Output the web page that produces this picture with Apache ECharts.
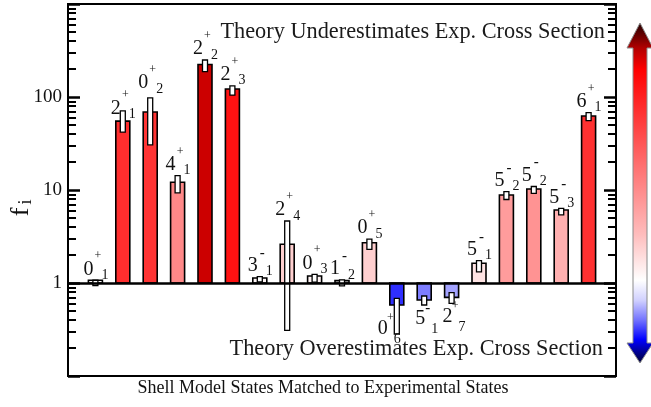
<!DOCTYPE html>
<html>
<head>
<meta charset="utf-8">
<script src="https://cdn.jsdelivr.net/npm/echarts@6/dist/echarts.min.js"></script>
<style>
  html, body { margin: 0; padding: 0; background: #fff; }
  #chart { width: 651px; height: 407px; }
</style>
</head>
<body>
<div id="chart"></div>
<script>
// Shell-model states: spin J, parity and state index n (J^pi_n)
const spins    = ['0','2','0','4','2','2','3','2','0','1','0','0','5','2','5','5','5','5','6'];
const parities = ['+','+','+','+','+','+','-','+','+','-','+','+','-','+','-','-','-','-','+'];
const indices  = ['1','1','2','1','2','3','1','4','3','2','5','6','1','7','1','2','2','3','1'];

// Scaling factor f_i for each matched state, with its uncertainty range
const fValues = [1.07, 55, 69, 12.1, 224, 122, 1.13, 2.61, 1.19, 1.06, 2.71, 0.58, 0.656, 0.70, 1.63, 8.84, 10.25, 6.1, 62.5];
const fLow    = [0.94, 42, 30.5, 9.3, 187, 105, 1.03, 0.31, 1.02, 0.93, 2.30, 0.283, 0.58, 0.605, 1.32, 7.9, 9.2, 5.4, 55.6];
const fHigh   = [1.07, 71, 98, 14.3, 250, 132, 1.17, 4.64, 1.24, 1.08, 2.97, 0.684, 0.725, 0.787, 1.74, 9.6, 10.9, 6.35, 67.8];

// Labels shown on the log axis
const yTickLabels = [1, 10, 100];

const SERIF = '"Liberation Serif", "DejaVu Serif", serif';

// Minor tick positions (2..9 in each decade), in log10 units
const minorTickLogs = [];
[0.1, 1, 10, 100].forEach(d => {
  for (let k = 2; k <= 9; k++) minorTickLogs.push(Math.log10(d * k));
});

// Diverging colour ramp over log10(f): blue below 1, white at 1, red above
const rampStops = [
  [-0.6, '#0000c0'], [-0.24, '#2a2aff'], [-0.18, '#8282ff'], [-0.15, '#aaaaff'],
  [0, '#ffffff'], [0.05, '#fff6f6'], [0.21, '#ffe4e4'], [0.42, '#ffd0d0'],
  [0.79, '#ffb0b0'], [0.95, '#ff9c9c'], [1.08, '#ff8888'], [1.74, '#ff2e2e'],
  [1.84, '#ff3434'], [2.09, '#ff1212'], [2.35, '#cc0000'], [3, '#400000']
];
function hexToRgb(h) {
  return [parseInt(h.slice(1, 3), 16), parseInt(h.slice(3, 5), 16), parseInt(h.slice(5, 7), 16)];
}
function rampColor(v) {
  const t = Math.log10(v);
  if (t <= rampStops[0][0]) return rampStops[0][1];
  for (let i = 1; i < rampStops.length; i++) {
    if (t <= rampStops[i][0]) {
      const [t0, c0] = rampStops[i - 1], [t1, c1] = rampStops[i];
      const a = (t - t0) / (t1 - t0);
      const p = hexToRgb(c0), q = hexToRgb(c1);
      const m = p.map((x, j) => Math.round(x + (q[j] - x) * a));
      return 'rgb(' + m.join(',') + ')';
    }
  }
  return rampStops[rampStops.length - 1][1];
}

// Hand adjustments for a few state labels that sit beside long error boxes
const labelNudge = { 1: [0, 8.5], 2: [0, -3.7], 11: [-10, -19] };

function renderState(params, api) {
  const i = params.dataIndex;
  const xv = api.value(0), v = api.value(1), lo = api.value(2), hi = api.value(3);
  const base = api.coord([xv, 1]);
  const top = api.coord([xv, v]);
  const eHi = api.coord([xv, hi]);
  const eLo = api.coord([xv, lo]);
  const cx = base[0];
  const y0 = Math.min(base[1], top[1]);
  const y1 = Math.max(base[1], top[1]);
  const children = [
    {
      type: 'rect',
      shape: { x: cx - 7, y: y0, width: 14, height: Math.max(y1 - y0, 0.5) },
      style: { fill: rampColor(v), stroke: '#000', lineWidth: 1.6 }
    },
    {
      type: 'rect',
      shape: { x: cx - 2.5, y: eHi[1], width: 5, height: eLo[1] - eHi[1] },
      style: { fill: '#fff', stroke: '#000', lineWidth: 1.3 }
    }
  ];
  const nd = labelNudge[i] || [0, 0];
  const up = v >= 1;
  let dcy, dx, sx, sy, bx, by;
  if (up) {
    const yTop = Math.min(top[1], eHi[1]);
    dcy = yTop - 11 + nd[1];
    dx = cx - 2 + nd[0];
    sx = cx + 2.5 + nd[0]; sy = dcy - 13;
    bx = cx + 6 + nd[0];  by = dcy + 6;
  } else {
    const yBot = Math.max(top[1], eLo[1]);
    dcy = yBot + 13.5 + nd[1];
    dx = cx + 1 + nd[0];
    sx = cx + 3.5 + nd[0]; sy = dcy - 10.5;
    bx = cx + 7 + nd[0];  by = dcy + 10.5;
  }
  const sign = parities[i];
  children.push(
    { type: 'text', style: { text: spins[i], x: dx, y: dcy, align: 'right', verticalAlign: 'middle',
        font: '20px ' + SERIF, fill: '#111' } },
    { type: 'text', style: { text: sign, x: sx, y: sy, align: 'center', verticalAlign: 'middle',
        font: (sign === '-' ? 'bold 15px ' : '12px ') + SERIF, fill: '#111' } },
    { type: 'text', style: { text: indices[i], x: bx, y: by, align: 'left', verticalAlign: 'middle',
        font: '14px ' + SERIF, fill: '#111' } }
  );
  return { type: 'group', children };
}

const chart = echarts.init(document.getElementById('chart'), null, { renderer: 'canvas' });

const tickAxisBase = {
  type: 'value', min: -1, max: 3,
  axisLine: { show: false }, axisLabel: { show: false }, splitLine: { show: false }
};

chart.setOption({
  animation: false,
  backgroundColor: '#fff',
  grid: { left: 68, right: 35, top: 4, bottom: 31, show: true, borderColor: '#000', borderWidth: 2, backgroundColor: 'transparent' },
  xAxis: { type: 'value', min: 0, max: 20, show: false },
  yAxis: [
    {
      type: 'log', logBase: 10, min: 0.1, max: 1000, position: 'left',
      axisLine: { show: false }, splitLine: { show: false },
      axisTick: { inside: true, length: 12, lineStyle: { color: '#000', width: 2.5 } },
      axisLabel: {
        margin: 6, fontFamily: SERIF, fontSize: 19, color: '#111',
        formatter: v => {
          const m = yTickLabels.find(t => Math.abs(Math.log10(v) - Math.log10(t)) < 1e-6);
          return m === undefined ? '' : String(m);
        }
      }
    },
    Object.assign({}, tickAxisBase, { position: 'left',
      axisTick: { inside: true, length: 8, customValues: minorTickLogs, lineStyle: { color: '#000', width: 2 } } }),
    Object.assign({}, tickAxisBase, { position: 'right', interval: 1,
      axisTick: { inside: true, length: 12, lineStyle: { color: '#000', width: 2.5 } } }),
    Object.assign({}, tickAxisBase, { position: 'right',
      axisTick: { inside: true, length: 8, customValues: minorTickLogs, lineStyle: { color: '#000', width: 2 } } })
  ],
  series: [{
    type: 'custom',
    xAxisIndex: 0, yAxisIndex: 0,
    renderItem: renderState,
    encode: { x: 0, y: [1, 2, 3] },
    data: fValues.map((v, i) => [i + 1, v, fLow[i], fHigh[i]]),
    z: 2,
    markLine: {
      silent: true, symbol: 'none', label: { show: false },
      lineStyle: { color: '#000', width: 2.5, type: 'solid' },
      data: [{ yAxis: 1 }]
    }
  }],
  graphic: [
    { type: 'text', x: 605, y: 32, style: { text: 'Theory Underestimates Exp. Cross Section',
        font: '22.3px ' + SERIF, fill: '#1a1a1a', align: 'right', verticalAlign: 'middle',
        textAlign: 'right', textVerticalAlign: 'middle' } },
    { type: 'text', x: 603, y: 349, style: { text: 'Theory Overestimates Exp. Cross Section',
        font: '22.3px ' + SERIF, fill: '#1a1a1a', align: 'right', verticalAlign: 'middle',
        textAlign: 'right', textVerticalAlign: 'middle' } },
    { type: 'text', x: 323, y: 388, style: { text: 'Shell Model States Matched to Experimental States',
        font: '18px ' + SERIF, fill: '#111', align: 'center', verticalAlign: 'middle',
        textAlign: 'center', textVerticalAlign: 'middle' } },
    { type: 'text', x: 21, y: 212, rotation: Math.PI / 2, style: { text: 'f',
        font: '26px ' + SERIF, fill: '#111', align: 'center', verticalAlign: 'middle',
        textAlign: 'center', textVerticalAlign: 'middle' } },
    { type: 'text', x: 26, y: 202, rotation: Math.PI / 2, style: { text: 'i',
        font: '18px ' + SERIF, fill: '#111', align: 'center', verticalAlign: 'middle',
        textAlign: 'center', textVerticalAlign: 'middle' } },
    {
      type: 'polygon',
      shape: { points: [[640, 23], [653, 48], [647, 48], [647, 343], [653, 343], [640, 363], [627, 343], [633, 343], [633, 48], [627, 48]] },
      style: {
        stroke: '#8a8a8a', lineWidth: 1,
        fill: {
          type: 'linear', x: 0, y: 0, x2: 0, y2: 1,
          colorStops: [
            { offset: 0, color: '#200000' }, { offset: 0.074, color: '#b00000' },
            { offset: 0.138, color: '#ff0000' }, { offset: 0.42, color: '#ff7070' },
            { offset: 0.62, color: '#ffbcbc' }, { offset: 0.756, color: '#ffffff' },
            { offset: 0.815, color: '#d0d0ff' }, { offset: 0.874, color: '#7070ff' },
            { offset: 0.93, color: '#0000ff' }, { offset: 1, color: '#000030' }
          ]
        }
      }
    }
  ]
});
</script>
</body>
</html>
